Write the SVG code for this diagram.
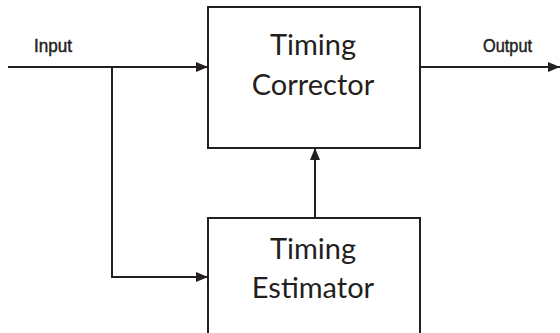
<svg xmlns="http://www.w3.org/2000/svg" width="560" height="333" viewBox="0 0 560 333">
<style>
.box{fill:#fff;stroke:#231f20;stroke-width:2}
.ln{fill:none;stroke:#231f20;stroke-width:2}
.t{font-family:Lato,"Open Sans",sans-serif;font-size:29px;fill:#231f20;text-anchor:middle}
.lb{font-family:"Liberation Sans",sans-serif;font-size:19px;fill:#231f20;stroke:#231f20;stroke-width:0.5}
</style>
<defs>
<marker id="ah" viewBox="0 0 12 10" refX="12" refY="5" markerWidth="12" markerHeight="10" markerUnits="userSpaceOnUse" orient="auto">
<path d="M0,0 L12,5 L0,10 Z" fill="#231f20"/>
</marker>
</defs>
<g id="connectors">
<path class="ln" d="M8,67 H208" marker-end="url(#ah)"/>
<path class="ln" d="M112,67 V277 H208" marker-end="url(#ah)"/>
<path class="ln" d="M420,67 H560" marker-end="url(#ah)"/>
<path class="ln" d="M315,218 V148" marker-end="url(#ah)"/>
</g>
<g id="corrector">
<rect class="box" x="208" y="7" width="212" height="141"/>
<text class="t" x="313" y="55">Timing</text>
<text class="t" x="313" y="95">Corrector</text>
</g>
<g id="estimator">
<rect class="box" x="208" y="218" width="212" height="130"/>
<text class="t" x="313" y="259">Timing</text>
<text class="t" x="313" y="298">Estimator</text>
</g>
<g id="labels">
<text class="lb" x="34" y="52" textLength="38" lengthAdjust="spacingAndGlyphs">Input</text>
<text class="lb" x="483" y="52" textLength="49" lengthAdjust="spacingAndGlyphs">Output</text>
</g>
</svg>
